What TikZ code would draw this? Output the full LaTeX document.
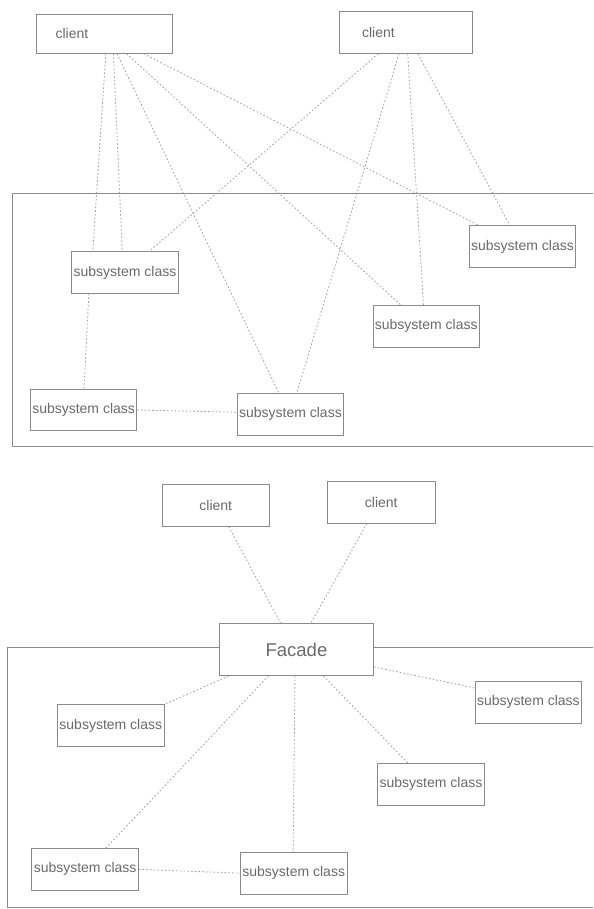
\documentclass[tikz,border=0pt]{standalone}
\usepackage{fontspec}
\setmainfont{Liberation Sans}
\definecolor{boxline}{HTML}{8A8A8A}
\definecolor{boxtext}{HTML}{6A6A6A}
\definecolor{connline}{HTML}{A0A0A0}
\begin{document}
\begin{tikzpicture}[x=0.75pt,y=-0.75pt,
  box/.style={draw=boxline, line width=0.6pt, rectangle, inner sep=0pt, text=boxtext, font=\fontsize{10.5}{12}\selectfont},
  sub/.style={box, minimum width=79.9pt, minimum height=31.3pt},
  conn/.style={draw=connline, line width=0.6pt, dash pattern=on 1.2pt off 1.6pt},
  frame/.style={draw=boxline, line width=0.7pt}]
\useasboundingbox (0,0) rectangle (593,909);
\fill[white] (0,0) rectangle (593,909);

% ---------- top diagram ----------
\draw[frame] (593,193.5) -- (12.5,193.5) -- (12.5,446) -- (593,446);

\node[box, minimum width=102.15pt, minimum height=29.5pt, text width=73.15pt, inner xsep=14.5pt, align=left] (c1) at (104.4,33.7) {client};
\node[box, minimum width=99.5pt, minimum height=31.7pt, text width=65.5pt, inner xsep=17pt, align=left] (c2) at (405.7,32.2) {client};

\node[sub] (sA) at (125,272.5) {subsystem class};
\node[sub] (sB) at (522.5,246.5) {subsystem class};
\node[sub] (sC) at (426.25,326.35) {subsystem class};
\node[sub] (sD) at (83.6,410) {subsystem class};
\node[sub] (sE) at (290.45,414.15) {subsystem class};

\draw[conn] ([xshift=1.1pt]c1.south) -- ([xshift=-24.2pt]sA.north);
\draw[conn] ([xshift=6.8pt]c1.south) -- ([xshift=-2.1pt]sA.north);
\draw[conn] ([xshift=9.45pt]c1.south) -- ([xshift=-8.8pt]sE.north);
\draw[conn] ([xshift=16.7pt]c1.south) -- ([xshift=-19pt]sC.north);
\draw[conn] ([xshift=29.5pt]c1.south) -- ([xshift=-33.1pt]sB.north);
\draw[conn] ([xshift=-20.6pt]c2.south) -- ([xshift=18.3pt]sA.north);
\draw[conn] ([xshift=-5pt]c2.south) -- ([xshift=4.8pt]sE.north);
\draw[conn] ([xshift=1.5pt]c2.south) -- ([xshift=-2pt]sC.north);
\draw[conn] ([xshift=9.15pt]c2.south) -- ([xshift=-9.5pt]sB.north);
\draw[conn] ([xshift=-27.1pt]sA.south) -- ([xshift=0.3pt]sD.north);
\draw[conn] (sD.east) -- ([yshift=1.4pt]sE.west);

% ---------- bottom diagram ----------
\draw[frame] (593,647.7) -- (7,647.7) -- (7,907) -- (593,907);

\node[box, minimum width=80.85pt, minimum height=31.7pt] (c3) at (215.8,505.15) {client};
\node[box, minimum width=80.6pt, minimum height=31.3pt] (c4) at (381.25,502.15) {client};
\node[box, fill=white, minimum width=115.9pt, minimum height=39pt, font=\fontsize{13.9}{16}\selectfont] (fac) at (296.45,649.5) {Facade};

\node[sub] (tA) at (110.8,725.65) {subsystem class};
\node[sub] (tB) at (528.35,702.15) {subsystem class};
\node[sub] (tC) at (431,784.15) {subsystem class};
\node[sub] (tD) at (85.1,869.35) {subsystem class};
\node[sub] (tE) at (293.7,873.15) {subsystem class};

\draw[conn] ([xshift=9.75pt]c3.south) -- ([xshift=-11.9pt]fac.north);
\draw[conn] ([xshift=-10.75pt]c4.south) -- ([xshift=10.85pt]fac.north);
\draw[conn] ([xshift=-50.7pt]fac.south) -- (tA.north east);
\draw[conn] ([xshift=-21pt]fac.south) -- ([xshift=15.6pt]tD.north);
\draw[conn] ([xshift=-1.1pt]fac.south) -- ([xshift=-0.45pt]tE.north);
\draw[conn] ([xshift=20.2pt]fac.south) -- ([xshift=-17.5pt]tC.north);
\draw[conn] ([yshift=-13.1pt]fac.east) -- ([yshift=10.6pt]tB.west);
\draw[conn] (tD.east) -- (tE.west);
\end{tikzpicture}
\end{document}
